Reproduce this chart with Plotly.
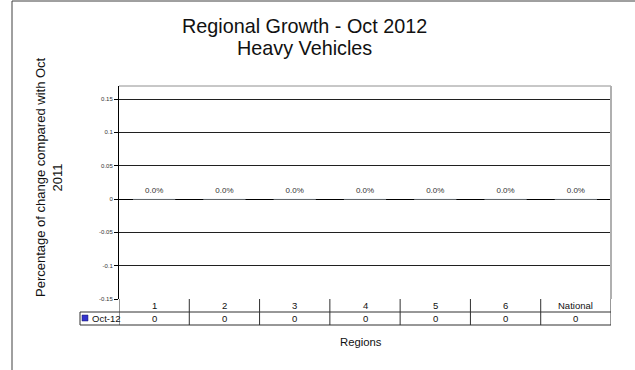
import plotly.graph_objects as go

# ---- data ----
regions = ["1", "2", "3", "4", "5", "6", "National"]
oct12_values = [0, 0, 0, 0, 0, 0, 0]
series_name = "Oct-12"
ytick_vals = [-0.15, -0.1, -0.05, 0, 0.05, 0.1, 0.15]
ytick_text = ["-0.15", "-0.1", "-0.05", "0", "0.05", "0.1", "0.15"]
title_lines = ["Regional Growth - Oct 2012", "Heavy Vehicles"]
y_title_lines = ["Percentage of change compared with Oct", "2011"]
x_title = "Regions"

FONT = "Liberation Sans, Arial, sans-serif"
W, H = 635, 370
L, R, T, B = 119, 24, 86, 71
PW, PH = W - L - R, H - T - B


def px_x(p):
    return (p - L) / PW


def px_y(p):
    return (H - B - p) / PH


fig = go.Figure()
fig.add_trace(go.Bar(x=regions, y=oct12_values, name=series_name,
                     marker=dict(color="#3333cc"), showlegend=False,
                     hoverinfo="skip"))
fig.add_trace(go.Scatter(x=regions, y=oct12_values, mode="markers+text",
                         marker=dict(size=5, color="rgba(0,0,0,0)"),
                         text=[f"{v*100:.1f}%" for v in oct12_values],
                         textposition="top center",
                         textfont=dict(family=FONT, size=8, color="#333"),
                         showlegend=False, hoverinfo="skip"))

shapes = []
line_c = "#303030"
row1_bot = px_y(312)
row2_bot = px_y(325)
# table row boundaries
shapes.append(dict(type="line", xref="paper", yref="paper",
                   x0=px_x(80), x1=1, y0=row1_bot, y1=row1_bot,
                   line=dict(color=line_c, width=1)))
shapes.append(dict(type="line", xref="paper", yref="paper",
                   x0=px_x(80), x1=1, y0=row2_bot, y1=row2_bot,
                   line=dict(color=line_c, width=1)))
# column dividers
for k in range(len(regions) + 1):
    shapes.append(dict(type="line", xref="x", yref="paper",
                       x0=k - 0.5, x1=k - 0.5, y0=row2_bot, y1=0,
                       line=dict(color=line_c, width=1)))
# legend cell left edge
shapes.append(dict(type="line", xref="paper", yref="paper",
                   x0=px_x(80), x1=px_x(80), y0=row2_bot, y1=row1_bot,
                   line=dict(color=line_c, width=1)))
# legend key square
shapes.append(dict(type="rect", xref="paper", yref="paper",
                   x0=px_x(82), x1=px_x(88), y0=px_y(321), y1=px_y(315),
                   fillcolor="#3333cc", line=dict(color="#1a1a66", width=0.5)))
# plot border top/right (gray)
shapes.append(dict(type="line", xref="paper", yref="paper",
                   x0=0, x1=1, y0=1, y1=1, line=dict(color="#909090", width=1)))
shapes.append(dict(type="line", xref="paper", yref="paper",
                   x0=1, x1=1, y0=0, y1=1, line=dict(color="#b0b0b0", width=2)))
# outer frame (top and left)
shapes.append(dict(type="line", xref="paper", yref="paper",
                   x0=px_x(12), x1=px_x(640), y0=px_y(1), y1=px_y(1),
                   line=dict(color="#404040", width=1)))
shapes.append(dict(type="line", xref="paper", yref="paper",
                   x0=px_x(12), x1=px_x(12), y0=px_y(375), y1=px_y(1),
                   line=dict(color="#404040", width=1)))

annotations = []
for i, (r, v) in enumerate(zip(regions, oct12_values)):
    annotations.append(dict(x=i, xref="x", y=(0 + row1_bot) / 2, yref="paper",
                            text=r, showarrow=False, yanchor="middle",
                            font=dict(family=FONT, size=9.5, color="#111")))
    annotations.append(dict(x=i, xref="x", y=(row1_bot + row2_bot) / 2, yref="paper",
                            text=str(v), showarrow=False, yanchor="middle",
                            font=dict(family=FONT, size=9.5, color="#111")))
annotations.append(dict(x=px_x(89.5), xref="paper", y=(row1_bot + row2_bot) / 2,
                        yref="paper", text=series_name, showarrow=False,
                        xanchor="left", yanchor="middle",
                        font=dict(family=FONT, size=9.5, color="#111")))
annotations.append(dict(x=px_x(361), xref="paper", y=px_y(342), yref="paper",
                        text=x_title, showarrow=False, yanchor="middle",
                        font=dict(family=FONT, size=11.3, color="#111")))
annotations.append(dict(x=px_x(49), xref="paper", y=px_y(177), yref="paper",
                        text="<br>".join(y_title_lines), showarrow=False,
                        textangle=-90, xanchor="center", yanchor="middle",
                        font=dict(family=FONT, size=13, color="#111")))
for line, yc in zip(title_lines, [26, 48]):
    annotations.append(dict(x=px_x(304), xref="paper", y=px_y(yc), yref="paper",
                            text=line, showarrow=False, xanchor="center",
                            yanchor="middle",
                            font=dict(family=FONT, size=19.8, color="#111")))

fig.update_layout(
    width=W, height=H,
    margin=dict(l=L, r=R, t=T, b=B, pad=0),
    paper_bgcolor="white", plot_bgcolor="white",
    showlegend=False,
    bargap=0.4,
    xaxis=dict(type="category", range=[-0.5, len(regions) - 0.5],
               showticklabels=False, showgrid=False, zeroline=False,
               showline=False, ticks=""),
    yaxis=dict(range=[-0.15, 0.15 + 13 * 0.3 / 200], tickvals=ytick_vals,
               ticktext=ytick_text, showgrid=True, gridcolor="#202020",
               gridwidth=1, zeroline=True, zerolinecolor="#000",
               zerolinewidth=1, showline=True, linecolor="#000", linewidth=1,
               ticks="outside", ticklen=4, tickcolor="#000",
               tickfont=dict(family=FONT, size=6, color="#333")),
    shapes=shapes, annotations=annotations,
)

fig.write_html("out.html", config={"displayModeBar": False},
               post_script="document.body.style.margin='0';")
